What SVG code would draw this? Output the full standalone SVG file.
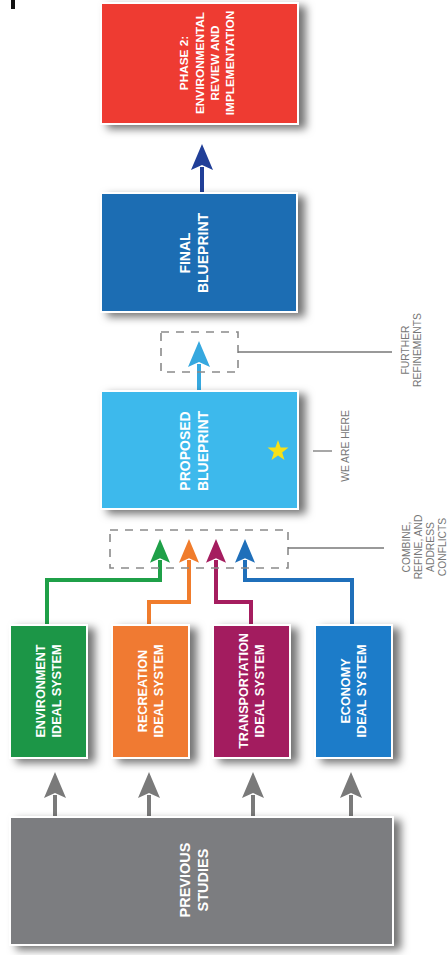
<svg xmlns="http://www.w3.org/2000/svg" width="447" height="955" viewBox="0 0 447 955">
<style>
.box{stroke:#fff;stroke-width:2;filter:url(#sh)}
.lbl{font-family:"Liberation Sans",Arial,sans-serif;font-weight:bold;fill:#fff;text-anchor:middle}
.side{font-family:"Liberation Sans",Arial,sans-serif;fill:#777;text-anchor:middle;font-size:10.3px}
.con{fill:none;stroke-width:4}
.thin{fill:none;stroke:#777;stroke-width:1.3}
.dash{fill:none;stroke:#8a8a8a;stroke-width:1.6;stroke-dasharray:8 7}
</style>
<defs>
<filter id="sh" x="-20%" y="-20%" width="150%" height="150%">
<feDropShadow dx="7" dy="4" stdDeviation="4" flood-color="#000" flood-opacity="0.55"/>
</filter>
<marker id="mDB" viewBox="0 0 26 22" markerUnits="userSpaceOnUse" markerWidth="26" markerHeight="22" refX="3" refY="11" orient="auto"><path d="M0,0 L26,11 L0,22 L5,11 z" fill="#213f98"/></marker>
<marker id="mLB" viewBox="0 0 26 22" markerUnits="userSpaceOnUse" markerWidth="26" markerHeight="22" refX="3" refY="11" orient="auto"><path d="M0,0 L26,11 L0,22 L5,11 z" fill="#36a8df"/></marker>
<marker id="mG" viewBox="0 0 26 22" markerUnits="userSpaceOnUse" markerWidth="26" markerHeight="20" refX="3" refY="11" orient="auto"><path d="M0,0 L26,11 L0,22 L5,11 z" fill="#1fa048"/></marker>
<marker id="mO" viewBox="0 0 26 22" markerUnits="userSpaceOnUse" markerWidth="26" markerHeight="20" refX="3" refY="11" orient="auto"><path d="M0,0 L26,11 L0,22 L5,11 z" fill="#f07c2c"/></marker>
<marker id="mM" viewBox="0 0 26 22" markerUnits="userSpaceOnUse" markerWidth="26" markerHeight="20" refX="3" refY="11" orient="auto"><path d="M0,0 L26,11 L0,22 L5,11 z" fill="#a51d5f"/></marker>
<marker id="mB" viewBox="0 0 26 22" markerUnits="userSpaceOnUse" markerWidth="26" markerHeight="20" refX="3" refY="11" orient="auto"><path d="M0,0 L26,11 L0,22 L5,11 z" fill="#1f6fba"/></marker>
<marker id="mGr" viewBox="0 0 26 22" markerUnits="userSpaceOnUse" markerWidth="26" markerHeight="22" refX="3" refY="11" orient="auto"><path d="M0,0 L26,11 L0,22 L5,11 z" fill="#7a7a7a"/></marker>
</defs>
<rect width="447" height="955" fill="#fff"/>
<rect x="11" y="0" width="4" height="9" fill="#111"/>

<g id="connectors">
<path class="con" stroke="#213f98" d="M202,193 V167" marker-end="url(#mDB)"/>
<path class="con" stroke="#36a8df" d="M199,390 V364" marker-end="url(#mLB)"/>
<path class="con" stroke="#1fa048" d="M47,625 V580 H160 V560" marker-end="url(#mG)"/>
<path class="con" stroke="#f07c2c" d="M149,625 V602 H189 V560" marker-end="url(#mO)"/>
<path class="con" stroke="#a51d5f" d="M251,625 V602 H216 V560" marker-end="url(#mM)"/>
<path class="con" stroke="#1f6fba" d="M352,625 V580 H245 V560" marker-end="url(#mB)"/>
<path class="con" stroke="#7a7a7a" d="M55,817 V795" marker-end="url(#mGr)"/>
<path class="con" stroke="#7a7a7a" d="M149,817 V795" marker-end="url(#mGr)"/>
<path class="con" stroke="#7a7a7a" d="M253,817 V795" marker-end="url(#mGr)"/>
<path class="con" stroke="#7a7a7a" d="M351,817 V795" marker-end="url(#mGr)"/>
<rect class="dash" x="161" y="332" width="77" height="40"/>
<rect class="dash" x="110" y="530" width="178" height="38"/>
<path class="thin" d="M238,352 H392"/>
<path class="thin" d="M288,548 H384"/>
<path class="thin" d="M313,451 H332"/>
</g>

<g id="phase2">
<rect class="box" x="101" y="3" width="197" height="121" fill="#ee3a32"/>
<g transform="translate(207,63) rotate(-90)" class="lbl" font-size="11.8">
<text y="-19">PHASE 2:</text><text y="-3.5">ENVIRONMENTAL</text><text y="12">REVIEW AND</text><text y="27">IMPLEMENTATION</text>
</g>
</g>

<g id="final">
<rect class="box" x="101" y="193" width="196" height="119" fill="#1b6db3"/>
<g transform="translate(194,253) rotate(-90)" class="lbl" font-size="14">
<text y="-4">FINAL</text><text y="14">BLUEPRINT</text>
</g>
</g>

<g id="proposed">
<rect class="box" x="101" y="391" width="197" height="118" fill="#3cb9ec"/>
<g transform="translate(194,451) rotate(-90)" class="lbl" font-size="14">
<text y="-4">PROPOSED</text><text y="14">BLUEPRINT</text>
</g>
<polygon fill="#f7e118" points="278,440 280.6,447.4 288.5,447.6 282.2,452.4 284.5,460 278,455.5 271.5,460 273.8,452.4 267.5,447.6 275.4,447.4"/>
</g>

<g id="env">
<rect class="box" x="10" y="625" width="77" height="133" fill="#1e9647"/>
<g transform="translate(48.5,691) rotate(-90)" class="lbl" font-size="12.6">
<text y="-3.5">ENVIRONMENT</text><text y="12.5">IDEAL SYSTEM</text>
</g>
</g>
<g id="rec">
<rect class="box" x="112" y="625" width="77" height="133" fill="#f07a30"/>
<g transform="translate(150.5,691) rotate(-90)" class="lbl" font-size="12.6">
<text y="-3.5">RECREATION</text><text y="12.5">IDEAL SYSTEM</text>
</g>
</g>
<g id="trans">
<rect class="box" x="213" y="625" width="77" height="133" fill="#a31a5e"/>
<g transform="translate(251.5,691) rotate(-90)" class="lbl" font-size="12.6">
<text y="-3.5">TRANSPORTATION</text><text y="12.5">IDEAL SYSTEM</text>
</g>
</g>
<g id="econ">
<rect class="box" x="315" y="625" width="77" height="133" fill="#1d7cc9"/>
<g transform="translate(353.5,691) rotate(-90)" class="lbl" font-size="12.6">
<text y="-3.5">ECONOMY</text><text y="12.5">IDEAL SYSTEM</text>
</g>
</g>

<g id="previous">
<rect class="box" x="10" y="817" width="383" height="128" fill="#7b7d80"/>
<g transform="translate(194,880) rotate(-90)" class="lbl" font-size="14.5">
<text y="-4">PREVIOUS</text><text y="14">STUDIES</text>
</g>
</g>

<g id="note-further" transform="translate(411,350) rotate(-90)" class="side">
<text y="-2.5">FURTHER</text><text y="9.5">REFINEMENTS</text>
</g>
<g id="note-here" transform="translate(345,446) rotate(-90)" class="side">
<text y="3.5">WE ARE HERE</text>
</g>
<g id="note-combine" transform="translate(424,547) rotate(-90)" class="side" font-size="10">
<text y="-14.5">COMBINE,</text><text y="-2.5">REFINE, AND</text><text y="9.5">ADDRESS</text><text y="21.5">CONFLICTS</text>
</g>
</svg>
